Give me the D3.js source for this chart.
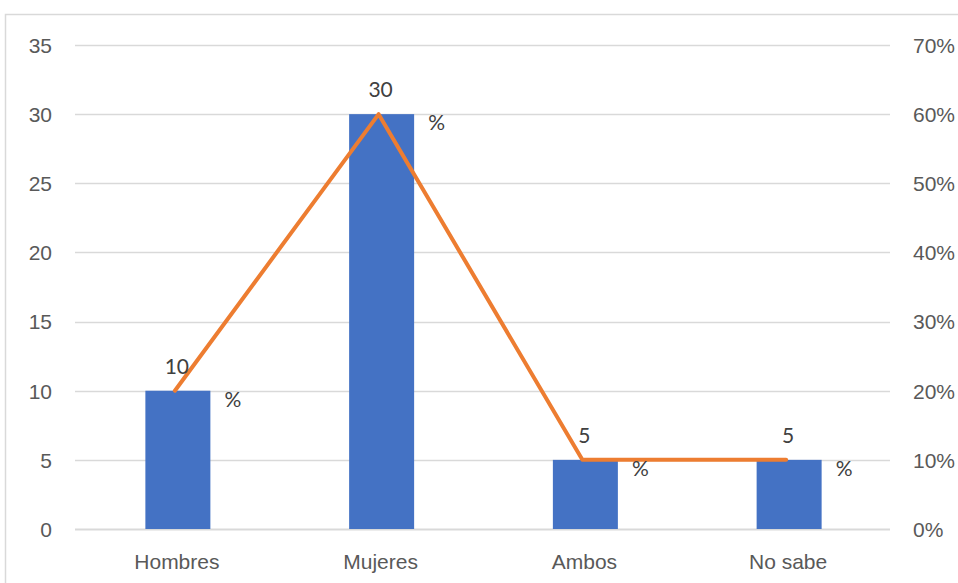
<!DOCTYPE html>
<html>
<head>
<meta charset="utf-8">
<script src="https://cdn.jsdelivr.net/npm/d3@7"></script>
<style>
  body { margin: 0; background: #fff; }
  svg { display: block; font-family: "Lato", "Liberation Sans", sans-serif; }
</style>
</head>
<body>
<svg id="chart" width="958" height="583"></svg>
<script>
const categories = ["Hombres", "Mujeres", "Ambos", "No sabe"];
const counts = [10, 30, 5, 5];
const percents = [0.20, 0.60, 0.10, 0.10];
const leftTicks = [0, 5, 10, 15, 20, 25, 30, 35];
const rightTicks = [0, 0.1, 0.2, 0.3, 0.4, 0.5, 0.6, 0.7];

const svg = d3.select("#chart");
const m = { left: 75, right: 890, top: 45, bottom: 529 };
const FS = "21px";

// outer chart border
svg.append("rect").attr("x", 5.5).attr("y", 14.5).attr("width", 1000).attr("height", 1000)
  .attr("fill", "none").attr("stroke", "#d9d9d9").attr("stroke-width", 1.5);

const x = d3.scaleBand().domain(categories).range([m.left, m.right]).paddingInner(0).paddingOuter(0);
const yL = d3.scaleLinear().domain([0, 35]).range([m.bottom, m.top]);
const yR = d3.scaleLinear().domain([0, 0.7]).range([m.bottom, m.top]);

// gridlines
svg.append("g").selectAll("line").data(leftTicks).join("line")
  .attr("x1", m.left).attr("x2", m.right)
  .attr("y1", d => Math.round(yL(d)) + 0.5).attr("y2", d => Math.round(yL(d)) + 0.5)
  .attr("stroke", "#d9d9d9").attr("stroke-width", d => d === 0 ? 2 : 1.5);

// left axis
const axL = svg.append("g").attr("transform", `translate(${m.left},0)`)
  .call(d3.axisLeft(yL).tickValues(leftTicks).tickSize(0).tickPadding(23));
axL.select(".domain").remove();
axL.selectAll("text").attr("fill", "#595959").style("font-size", FS).attr("dy", "0.35em");

// right axis
const axR = svg.append("g").attr("transform", `translate(${m.right},0)`)
  .call(d3.axisRight(yR).tickValues(rightTicks).tickFormat(d3.format(".0%")).tickSize(0).tickPadding(23));
axR.select(".domain").remove();
axR.selectAll("text").attr("fill", "#595959").style("font-size", FS).attr("dy", "0.35em");

// category axis
const axB = svg.append("g").attr("transform", `translate(0,${m.bottom})`)
  .call(d3.axisBottom(x).tickSize(0).tickPadding(25));
axB.select(".domain").remove();
axB.selectAll("text").attr("fill", "#595959").style("font-size", FS);

// bars
const bw = 65;
svg.append("g").selectAll("rect").data(categories).join("rect")
  .attr("x", d => x(d) + x.bandwidth() / 2 - bw / 2 + 1)
  .attr("width", bw)
  .attr("y", (d, i) => yL(counts[i]))
  .attr("height", (d, i) => yL(0) - yL(counts[i]))
  .attr("fill", "#4472C4");

// line
const cx = d => x(d) + x.bandwidth() / 2 - 2;
const line = d3.line().x((d, i) => cx(categories[i])).y(d => yR(d));
svg.append("path").datum(percents).attr("d", line)
  .attr("fill", "none").attr("stroke", "#ED7D31").attr("stroke-width", 4)
  .attr("stroke-linejoin", "round").attr("stroke-linecap", "round");

// data labels (number wrapped, % on next line to the right)
const lab = svg.append("g").style("font-size", FS).attr("fill", "#404040");
lab.selectAll("text.num").data(categories).join("text").attr("class", "num")
  .attr("x", d => x(d) + x.bandwidth() / 2)
  .attr("y", (d, i) => yL(counts[i]) - 24)
  .attr("text-anchor", "middle").attr("dy", "0.35em")
  .text((d, i) => counts[i]);
lab.selectAll("text.pct").data(categories).join("text").attr("class", "pct")
  .attr("x", d => x(d) + x.bandwidth() / 2 + 56)
  .attr("y", (d, i) => yL(counts[i]) + 9)
  .attr("text-anchor", "middle").attr("dy", "0.35em")
  .text("%");
</script>
</body>
</html>
